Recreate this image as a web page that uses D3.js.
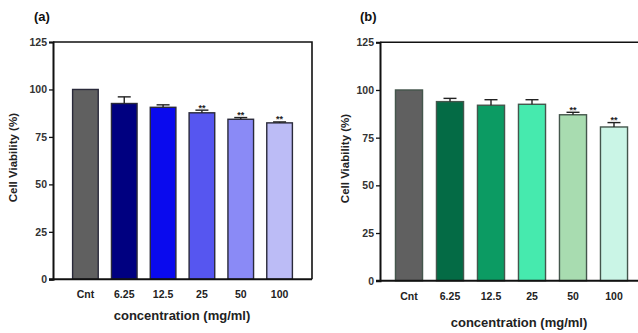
<!DOCTYPE html>
<html>
<head>
<meta charset="utf-8">
<script src="https://cdn.jsdelivr.net/npm/d3@7"></script>
<style>
  body { margin: 0; background: #fff; }
  svg { display: block; font-family: "Liberation Sans", Arial, sans-serif; }
</style>
</head>
<body>
<svg width="638" height="333"></svg>
<script>
// categories and tick labels
var categories = ["Cnt", "6.25", "12.5", "25", "50", "100"];
var yTicks = [0, 25, 50, 75, 100, 125];

// panel (a)
var meanA = [100, 92.6, 90.6, 87.7, 84.3, 82.4];
var errA  = [0, 3.5, 1.3, 1.4, 0.9, 0.5];
var starsA = ["", "", "", "**", "**", "**"];
var colorsA = ["#606060", "#000080", "#0a0aee", "#5656f0", "#8a8af6", "#bcbcf6"];

// panel (b)
var meanB = [100, 93.9, 92.0, 92.5, 87.0, 80.6];
var errB  = [0, 1.7, 2.9, 2.4, 1.3, 2.3];
var starsB = ["", "", "", "", "**", "**"];
var colorsB = ["#606060", "#046b45", "#0c9b63", "#46eaae", "#a8dcb0", "#caf5e6"];

var svg = d3.select("svg");

function drawPanel(opt) {
  var g = svg.append("g");

  var x = d3.scaleBand()
    .domain(categories)
    .range(opt.band)
    .paddingInner(0.34)
    .paddingOuter(0.17);

  var y = d3.scaleLinear()
    .domain([0, 125])
    .range([opt.bottom, opt.top]);

  var rows = categories.map(function(c, i) {
    return { cat: c, v: opt.mean[i], e: opt.err[i], s: opt.stars[i], col: opt.colors[i] };
  });

  // bars
  g.selectAll("rect.bar")
    .data(rows)
    .enter()
    .append("rect")
      .attr("class", "bar")
      .attr("x", function(d) { return x(d.cat); })
      .attr("y", function(d) { return y(d.v); })
      .attr("width", x.bandwidth())
      .attr("height", function(d) { return y(0) - y(d.v); })
      .attr("fill", function(d) { return d.col; })
      .attr("stroke", opt.barStroke)
      .attr("stroke-width", 1.4);

  // error bars (upper only)
  var eb = g.selectAll("g.err")
    .data(rows.filter(function(d) { return d.e > 0; }))
    .enter()
    .append("g")
      .attr("class", "err")
      .attr("stroke", "#222")
      .attr("stroke-width", 1.4);
  eb.append("line")
    .attr("x1", function(d) { return x(d.cat) + x.bandwidth() / 2; })
    .attr("x2", function(d) { return x(d.cat) + x.bandwidth() / 2; })
    .attr("y1", function(d) { return y(d.v); })
    .attr("y2", function(d) { return y(d.v + d.e); });
  eb.append("line")
    .attr("x1", function(d) { return x(d.cat) + x.bandwidth() / 2 - 6.5; })
    .attr("x2", function(d) { return x(d.cat) + x.bandwidth() / 2 + 6.5; })
    .attr("y1", function(d) { return y(d.v + d.e); })
    .attr("y2", function(d) { return y(d.v + d.e); });

  // significance stars
  g.selectAll("text.star")
    .data(rows.filter(function(d) { return d.s; }))
    .enter()
    .append("text")
      .attr("class", "star")
      .attr("x", function(d) { return x(d.cat) + x.bandwidth() / 2; })
      .attr("y", function(d) { return y(d.v + d.e) + 0.5; })
      .attr("text-anchor", "middle")
      .attr("font-size", 9)
      .attr("font-weight", "bold")
      .attr("fill", "#222")
      .text(function(d) { return d.s; });

  // frame: top and right
  g.append("path")
    .attr("d", "M" + opt.axisX + "," + y(125) + "H" + opt.right + "V" + y(0))
    .attr("fill", "none")
    .attr("stroke", "#111")
    .attr("stroke-width", 1.6);

  // y axis
  var yAxis = g.append("g")
    .attr("transform", "translate(" + opt.axisX + ",0)")
    .call(d3.axisLeft(y).tickValues(yTicks).tickSize(4).tickPadding(2));
  yAxis.select(".domain").attr("stroke", "#111").attr("stroke-width", 2);
  yAxis.selectAll(".tick line").attr("stroke", "#111").attr("stroke-width", 1.3);
  yAxis.selectAll(".tick text")
    .attr("font-family", "Liberation Sans, Arial, sans-serif")
    .attr("font-size", 10.5)
    .attr("font-weight", "bold")
    .attr("fill", "#333");

  // x axis line
  g.append("line")
    .attr("x1", opt.axisX - 4).attr("x2", opt.right)
    .attr("y1", y(0)).attr("y2", y(0))
    .attr("stroke", "#111").attr("stroke-width", 2);

  // category labels
  g.selectAll("text.cat")
    .data(rows)
    .enter()
    .append("text")
      .attr("class", "cat")
      .attr("x", function(d) { return x(d.cat) + x.bandwidth() / 2; })
      .attr("y", opt.bottom + 19)
      .attr("text-anchor", "middle")
      .attr("font-size", 10.5)
      .attr("font-weight", "bold")
      .attr("fill", "#222")
      .text(function(d) { return d.cat; });

  // axis titles
  g.append("text")
    .attr("x", opt.xTitleX)
    .attr("y", opt.xTitleY)
    .attr("text-anchor", "middle")
    .attr("font-size", 13)
    .attr("font-weight", "bold")
    .attr("fill", "#222")
    .text("concentration (mg/ml)");

  g.append("text")
    .attr("transform", "translate(" + opt.yTitleX + "," + ((opt.top + opt.bottom) / 2 - 3) + ") rotate(-90)")
    .attr("text-anchor", "middle")
    .attr("font-size", 11.5)
    .attr("font-weight", "bold")
    .attr("fill", "#222")
    .text("Cell Viability (%)");

  // panel letter
  g.append("text")
    .attr("x", opt.letterX)
    .attr("y", 21)
    .attr("font-size", 13)
    .attr("font-weight", "bold")
    .attr("fill", "#111")
    .text(opt.letter);
}

drawPanel({
  mean: meanA, err: errA, stars: starsA, colors: colorsA,
  band: [66, 299], axisX: 53, right: 312, top: 42, bottom: 279.3,
  barStroke: "#2a2a3a",
  xTitleX: 182, xTitleY: 320, yTitleX: 17, letter: "(a)", letterX: 34
});

drawPanel({
  mean: meanB, err: errB, stars: starsB, colors: colorsB,
  band: [388.5, 634.5], axisX: 380, right: 650, top: 42.3, bottom: 280.7,
  barStroke: "#44564c",
  xTitleX: 519, xTitleY: 327, yTitleX: 349, letter: "(b)", letterX: 360
});
</script>
</body>
</html>
